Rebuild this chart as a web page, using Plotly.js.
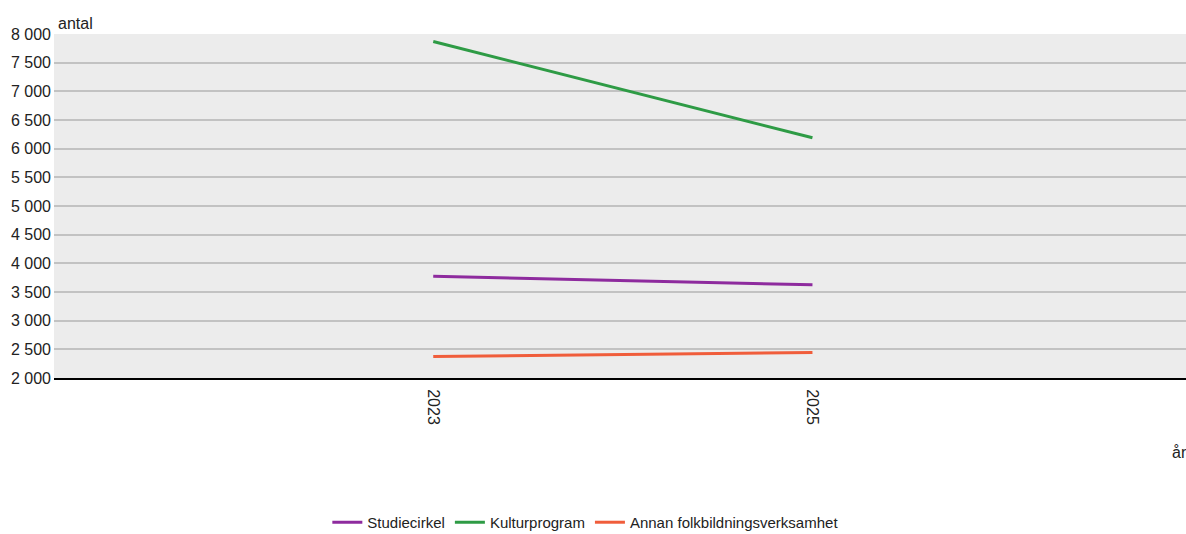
<!DOCTYPE html>
<html>
<head>
<meta charset="utf-8">
<script src="https://cdn.plot.ly/plotly-3.0.1.min.js"></script>
<style>
html,body{margin:0;padding:0;background:#fff;}
#chart{width:1186px;height:534px;}
</style>
</head>
<body>
<div id="chart"></div>
<script>
const years = [2023, 2025];
const seriesNames = ["Studiecirkel", "Kulturprogram", "Annan folkbildningsverksamhet"];
const studiecirkel = [3775, 3625];
const kulturprogram = [7870, 6190];
const annan = [2375, 2445];
const colors = ["#8E2B9E", "#2E9B45", "#F05D3B"];
const yTicks = [2000, 2500, 3000, 3500, 4000, 4500, 5000, 5500, 6000, 6500, 7000, 7500, 8000];

const values = [studiecirkel, kulturprogram, annan];
const traces = seriesNames.map((n, i) => ({
  type: "scatter",
  mode: "lines",
  name: n,
  x: years,
  y: values[i],
  line: {color: colors[i], width: 3},
  hoverinfo: "x+y+name"
}));

const layout = {
  width: 1186,
  height: 534,
  margin: {l: 54, r: 0, t: 34, b: 156, autoexpand: false},
  paper_bgcolor: "#ffffff",
  plot_bgcolor: "#ececec",
  separators: ", ",
  font: {family: "Liberation Sans, Arial, sans-serif", size: 16, color: "#222"},
  showlegend: true,
  legend: {
    orientation: "h",
    xref: "container", yref: "paper",
    x: 0.276, xanchor: "left",
    y: -0.372, yanchor: "top",
    font: {size: 15, color: "#222"},
    itemwidth: 30,
    tracegroupgap: 0
  },
  xaxis: {
    type: "linear",
    range: [2021, 2026.97],
    tickvals: years,
    ticktext: years.map(String),
    tickangle: 90,
    showgrid: false,
    zeroline: false,
    showline: true,
    linecolor: "#000",
    linewidth: 2,
    ticks: "",
    ticklabelstandoff: 6,
    tickfont: {size: 16, color: "#222"},
    fixedrange: true
  },
  yaxis: {
    range: [2000, 8000],
    tickvals: yTicks,
    tickformat: ",d",
    separatethousands: true,
    showgrid: true,
    gridcolor: "#c2c2c2",
    gridwidth: 1.5,
    zeroline: false,
    showline: false,
    ticks: "",
    ticklabelstandoff: 2,
    tickfont: {size: 16, color: "#222"},
    fixedrange: true
  },
  annotations: [
    {text: "antal", xref: "paper", yref: "paper", x: 0, y: 1, xanchor: "left", yanchor: "bottom", xshift: 2, yshift: 0, showarrow: false, font: {size: 16, color: "#222"}},
    {text: "år", xref: "paper", yref: "paper", x: 1, y: -0.215, xanchor: "right", yanchor: "middle", xshift: 3, yshift: -1, showarrow: false, font: {size: 16, color: "#222"}}
  ]
};

Plotly.newPlot("chart", traces, layout, {displayModeBar: false, staticPlot: false});
</script>
</body>
</html>
